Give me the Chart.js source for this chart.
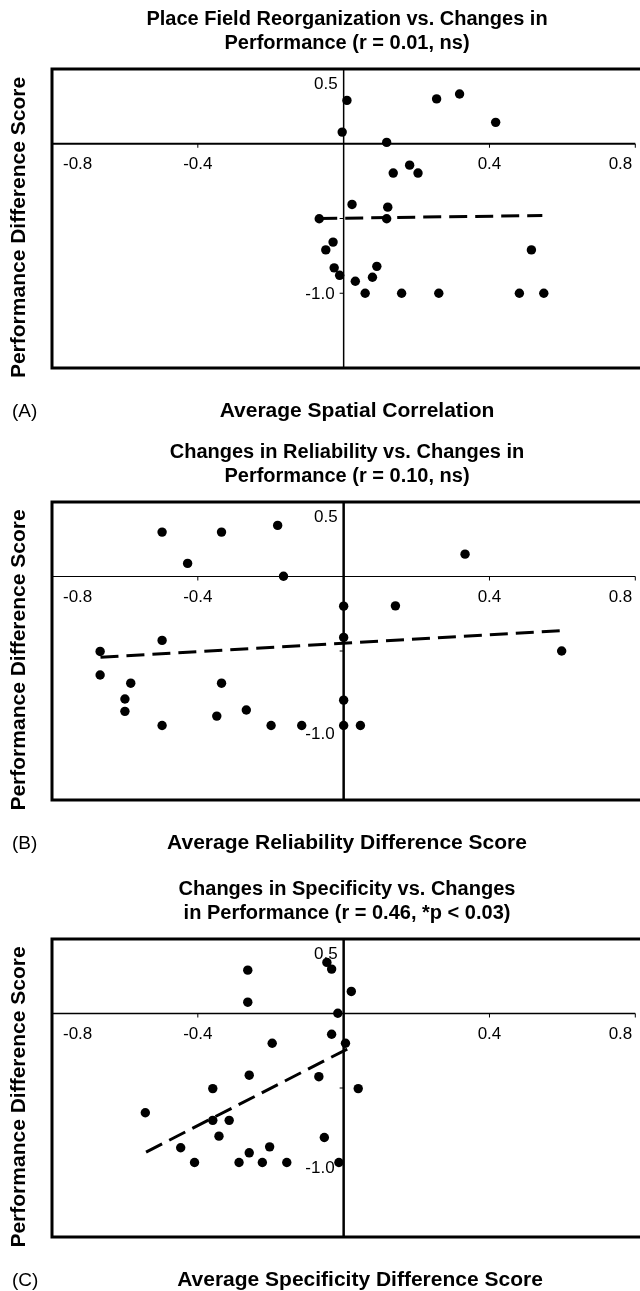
<!DOCTYPE html>
<html>
<head>
<meta charset="utf-8">
<script src="https://cdn.jsdelivr.net/npm/chart.js@4.4.1/dist/chart.umd.min.js"></script>
<style>
  html, body { margin: 0; padding: 0; background: #fff; }
  body { width: 640px; height: 1291px; position: relative; overflow: hidden; }
  canvas { position: absolute; left: 0; }
</style>
</head>
<body>
<canvas id="chartA" width="640" height="430" style="top:0px"></canvas>
<canvas id="chartB" width="640" height="430" style="top:430px"></canvas>
<canvas id="chartC" width="640" height="431" style="top:860px"></canvas>
<script>
// Panel A - place field reorganization
const placeX = [0.009, -0.004, 0.255, 0.318, 0.417, 0.118, 0.136, 0.181, 0.204, 0.023, 0.121, -0.067, 0.118,
    -0.029, -0.049, -0.026, -0.011, 0.032, 0.091, 0.079, 0.059, 0.159, 0.261, 0.515, 0.482, 0.549];
const placeY = [0.29, 0.078, 0.30, 0.333, 0.143, 0.009, -0.196, -0.143, -0.196, -0.406, -0.424, -0.502, -0.502,
    -0.658, -0.71, -0.83, -0.88, -0.92, -0.82, -0.893, -1.0, -1.0, -1.0, -0.71, -1.0, -1.0];
const placeTrendX = [-0.067, 0.545];
const placeTrendY = [-0.50, -0.48];

// Panel B - reliability
const reliabX = [-0.498, -0.335, -0.181, -0.428, -0.165, 0, 0, -0.498, -0.668, -0.668, -0.584, -0.6, -0.6,
    -0.335, -0.348, -0.267, -0.498, -0.199, -0.115, 0, 0, 0.046, 0.142, 0.333, 0.598];
const reliabY = [0.298, 0.298, 0.343, 0.088, 0.002, -0.199, -0.409, -0.429, -0.503, -0.661, -0.716, -0.822, -0.905,
    -0.716, -0.937, -0.896, -1.0, -1.0, -1.0, -0.83, -1.0, -1.0, -0.197, 0.150, -0.50];
const reliabTrendX = [-0.667, 0.598];
const reliabTrendY = [-0.542, -0.363];

// Panel C - specificity
const specX = [-0.263, -0.263, -0.046, -0.033, 0.021, -0.016, -0.033, -0.196, 0.005, -0.259, -0.068, -0.359, 0.04,
    -0.544, -0.359, -0.314, -0.342, -0.447, -0.259, -0.203, -0.053, -0.409, -0.287, -0.223, -0.156, -0.013];
const specY = [0.291, 0.076, 0.343, 0.298, 0.148, 0.002, -0.139, -0.2, -0.2, -0.414, -0.424, -0.504, -0.504,
    -0.666, -0.717, -0.717, -0.823, -0.901, -0.935, -0.895, -0.832, -1.0, -1.0, -1.0, -1.0, -1.0];
const specTrendX = [-0.542, 0.02];
const specTrendY = [-0.93, -0.226];

// Axes
const xTicks = [-0.8, -0.4, 0, 0.4, 0.8];
const xTickLabels = [-0.8, -0.4, 0.4, 0.8];
const yTicks = [0.5, 0, -0.5, -1.0, -1.5];
const yTickLabels = [0.5, -1.0];

const titlesA = ['Place Field Reorganization vs. Changes in', 'Performance (r = 0.01, ns)'];
const titlesB = ['Changes in Reliability vs. Changes in', 'Performance (r = 0.10, ns)'];
const titlesC = ['Changes in Specificity vs. Changes', 'in Performance (r = 0.46, *p < 0.03)'];
const yTitle = 'Performance Difference Score';

const FONT = "'Liberation Sans', Arial, Helvetica, sans-serif";

const panels = [
    { id: 'chartA', padTop: 69, padBottom: 62, titles: titlesA, xTitle: 'Average Spatial Correlation', tag: '(A)',
      xs: placeX, ys: placeY, tx: placeTrendX, ty: placeTrendY, hLine: 2, vLine: 1.5, xTitleX: 357, minusDy: 6 },
    { id: 'chartB', padTop: 72, padBottom: 60, titles: titlesB, xTitle: 'Average Reliability Difference Score', tag: '(B)',
      xs: reliabX, ys: reliabY, tx: reliabTrendX, ty: reliabTrendY, hLine: 1, vLine: 2.5, xTitleX: 347, minusDy: 13 },
    { id: 'chartC', padTop: 79, padBottom: 54, titles: titlesC, xTitle: 'Average Specificity Difference Score', tag: '(C)',
      xs: specX, ys: specY, tx: specTrendX, ty: specTrendY, hLine: 1.5, vLine: 2.5, xTitleX: 360, minusDy: 10 }
];

const fmt = v => v.toFixed(1);

// draws frame, crossing axes, ticks and their labels
const axesPlugin = {
    id: 'crossAxes',
    beforeDatasetsDraw(chart, args, opts) {
        const { ctx, chartArea: a, scales: { x, y } } = chart;
        const x0 = x.getPixelForValue(0);
        const y0 = y.getPixelForValue(0);
        ctx.save();
        ctx.strokeStyle = '#000';
        ctx.lineCap = 'butt';

        // frame (right side runs off the page)
        ctx.lineWidth = 3;
        ctx.beginPath();
        ctx.moveTo(a.right + 5, a.top);
        ctx.lineTo(a.left, a.top);
        ctx.lineTo(a.left, a.bottom);
        ctx.lineTo(a.right + 5, a.bottom);
        ctx.stroke();

        // zero lines
        ctx.lineWidth = opts.hLine;
        ctx.beginPath();
        ctx.moveTo(a.left, y0);
        ctx.lineTo(a.right, y0);
        ctx.stroke();
        ctx.lineWidth = opts.vLine;
        ctx.beginPath();
        ctx.moveTo(x0, a.top);
        ctx.lineTo(x0, a.bottom);
        ctx.stroke();

        // tick marks
        ctx.lineWidth = 1;
        ctx.beginPath();
        xTicks.forEach(v => {
            if (v === 0) return;
            const px = x.getPixelForValue(v);
            ctx.moveTo(px, y0);
            ctx.lineTo(px, y0 + 4);
        });
        yTicks.forEach(v => {
            if (v === 0) return;
            const py = y.getPixelForValue(v);
            ctx.moveTo(x0, py);
            ctx.lineTo(x0 - 4, py);
        });
        ctx.stroke();

        // tick labels
        ctx.fillStyle = '#000';
        ctx.font = `17px ${FONT}`;
        ctx.textBaseline = 'alphabetic';
        xTickLabels.forEach((v, i) => {
            let px = x.getPixelForValue(v);
            if (i === 0) { ctx.textAlign = 'left'; px = a.left + 11; }
            else if (i === xTickLabels.length - 1) { ctx.textAlign = 'right'; px = a.right - 3; }
            else ctx.textAlign = 'center';
            ctx.fillText(fmt(v), px, y0 + 25);
        });
        ctx.textAlign = 'right';
        yTickLabels.forEach(v => {
            if (v > 0) ctx.fillText(fmt(v), x0 - 6, y.getPixelForValue(v) + 20);
            else ctx.fillText(fmt(v), x0 - 9, y.getPixelForValue(v) + opts.minusDy);
        });
        ctx.restore();
    },
    afterDraw(chart, args, opts) {
        const { ctx, chartArea: a } = chart;
        ctx.save();
        ctx.fillStyle = '#000';
        ctx.textBaseline = 'alphabetic';

        // title
        ctx.font = `bold 20px ${FONT}`;
        ctx.textAlign = 'center';
        ctx.fillText(opts.titles[0], 347, a.top - 44);
        ctx.fillText(opts.titles[1], 347, a.top - 20);

        // axis titles
        ctx.font = `bold 21px ${FONT}`;
        ctx.fillText(opts.xTitle, opts.xTitleX, a.bottom + 49);
        ctx.save();
        ctx.translate(25, (a.top + a.bottom) / 2 + 9);
        ctx.rotate(-Math.PI / 2);
        ctx.fillText(yTitle, 0, 0);
        ctx.restore();

        // panel tag
        ctx.font = `19px ${FONT}`;
        ctx.textAlign = 'left';
        ctx.fillText(opts.tag, 12, a.bottom + 49);
        ctx.restore();
    }
};

panels.forEach(p => {
    const ctx = document.getElementById(p.id);
    new Chart(ctx, {
        type: 'scatter',
        data: {
            datasets: [{
                label: 'data',
                data: p.xs.map((v, i) => ({ x: v, y: p.ys[i] })),
                backgroundColor: '#000',
                borderColor: '#000',
                pointRadius: 4.7,
                pointBorderWidth: 0
            }, {
                label: 'trend',
                type: 'line',
                data: p.tx.map((v, i) => ({ x: v, y: p.ty[i] })),
                borderColor: '#000',
                borderWidth: 3,
                borderDash: [18, 8],
                pointRadius: 0,
                fill: false
            }]
        },
        options: {
            responsive: false,
            animation: false,
            devicePixelRatio: 1,
            layout: { padding: { top: p.padTop, bottom: p.padBottom, left: 52, right: 0 } },
            plugins: {
                legend: { display: false },
                title: { display: false },
                tooltip: { enabled: false },
                crossAxes: p
            },
            scales: {
                x: { type: 'linear', min: -0.8, max: 0.8, display: false },
                y: { type: 'linear', min: -1.5, max: 0.5, display: false }
            }
        },
        plugins: [axesPlugin]
    });
});
</script>
</body>
</html>
